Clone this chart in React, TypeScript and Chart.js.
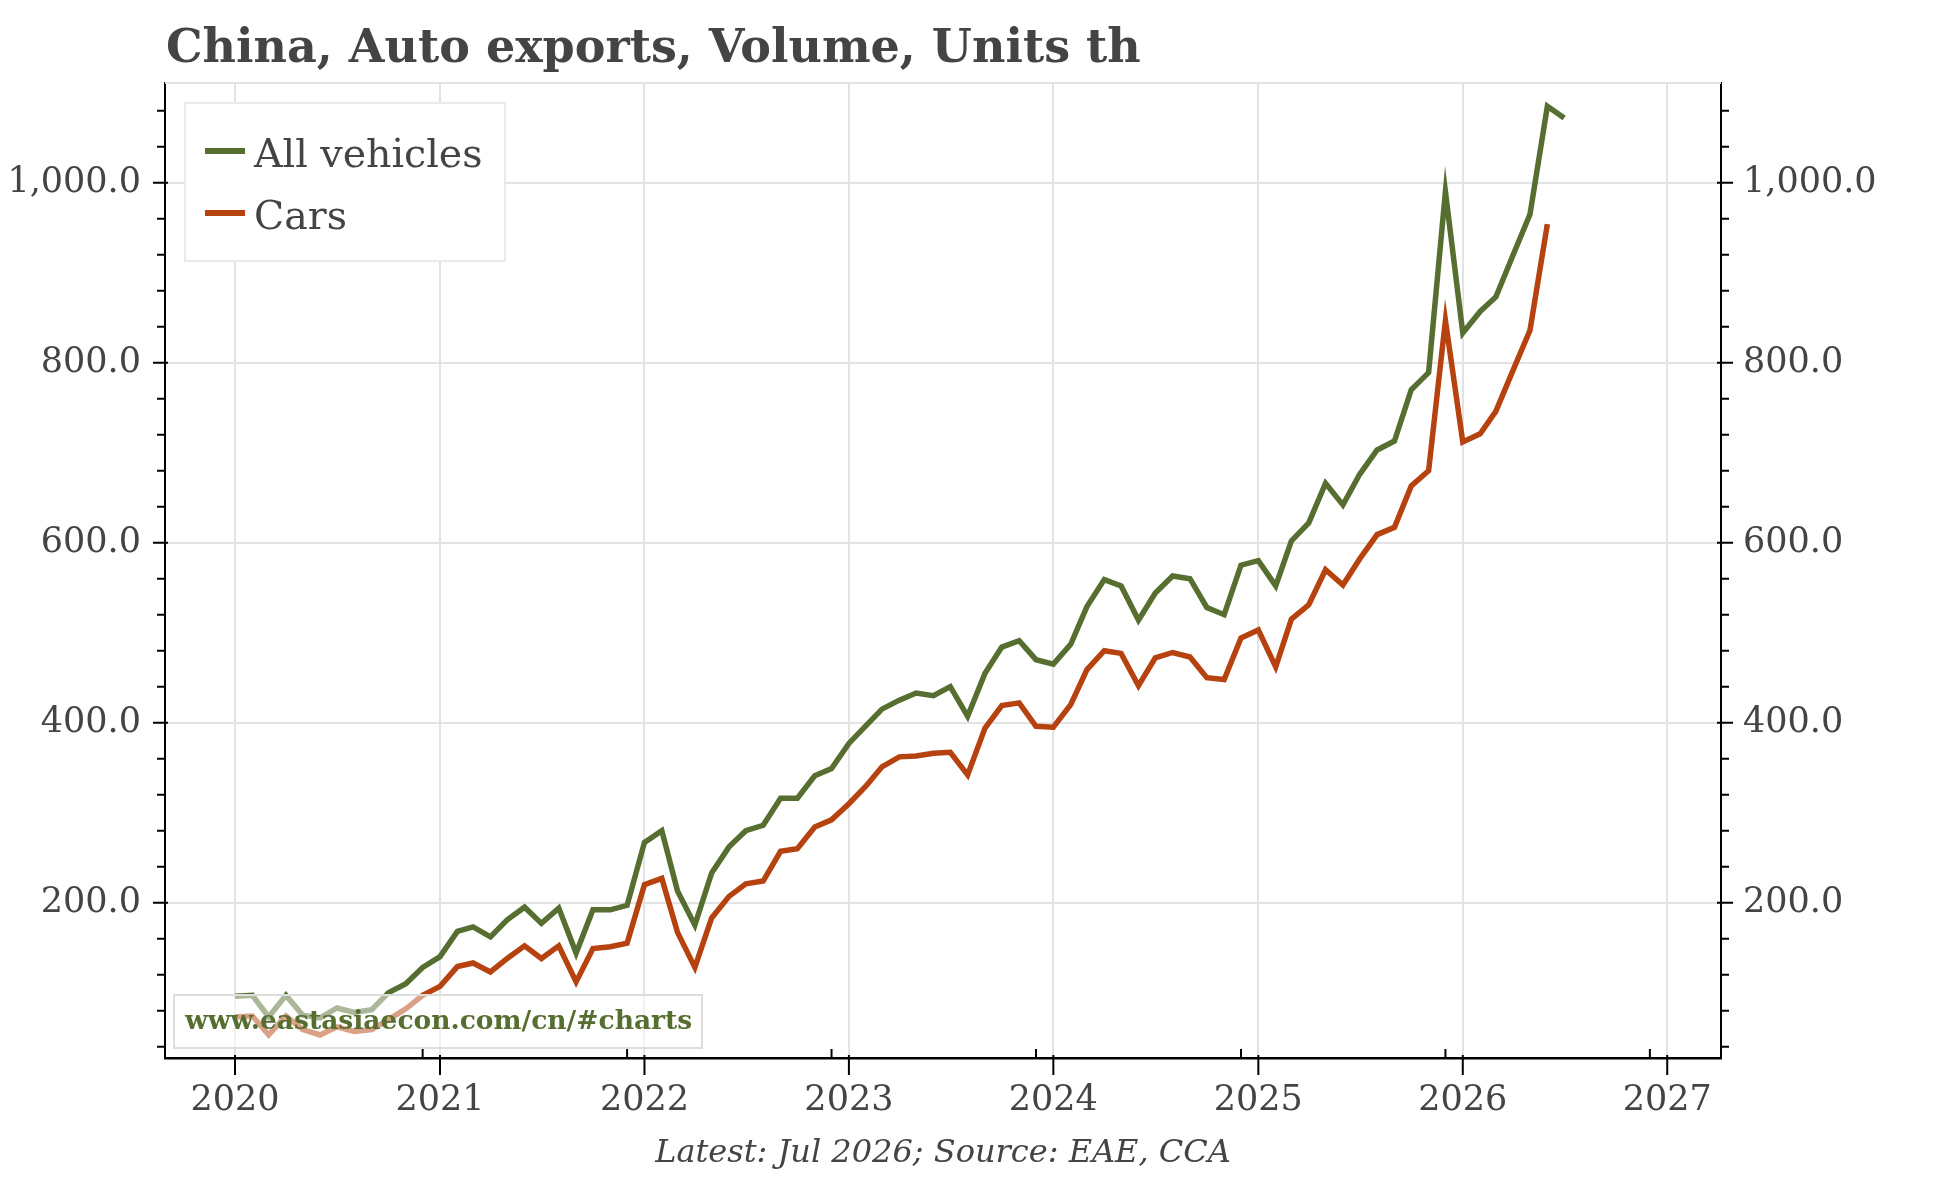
import { useEffect, useRef } from "react";
import { Chart, registerables } from "chart.js";

Chart.register(...registerables);

// monthly data, Jan 2020 onwards (thousand units)
const START_YEAR = 2020;

const ALL_VEHICLES = [
  96, 97, 73, 97, 75, 72, 83, 78, 81, 100, 110, 128,
  140, 168, 173, 162, 181, 195, 177, 194, 144, 192, 192, 197,
  267, 280, 213, 175, 233, 262, 280, 286, 316, 316, 341, 349,
  377, 397, 415, 425, 433, 430, 440, 407, 455, 484, 491, 470,
  465, 487, 529, 559, 552, 514, 544, 563, 560, 528, 520, 575,
  580, 552, 602, 622, 666, 642, 676, 703, 713, 770, 789, 990,
  833, 857, 873, 920, 965, 1085, 1072,
];

const CARS = [
  73, 74, 53, 74, 59, 53, 62, 57, 59, 70, 82, 97,
  107, 129, 133, 123, 138, 152, 138, 152, 112, 149, 151, 155,
  220, 227, 167, 128, 183, 207, 221, 224, 257, 260, 284, 292,
  310, 330, 351, 362, 363, 366, 367, 342, 394, 419, 422, 396,
  395, 420, 459, 480, 477, 441, 472, 478, 473, 450, 448, 494,
  503, 462, 515, 531, 570, 553, 582, 609, 617, 663, 680, 847,
  712, 721, 746, 792, 836, 954,
];

const YEARS = [2020, 2021, 2022, 2023, 2024, 2025, 2026, 2027];
const Y_MAJOR = [200, 400, 600, 800, 1000];

const TITLE = "China, Auto exports, Volume, Units th";
const FOOTER = "Latest: Jul 2026; Source: EAE, CCA";
const WATERMARK = "www.eastasiaecon.com/cn/#charts";
const SERIES_NAMES = ["All vehicles", "Cars"];

const GREEN = "#566E30";
const RUST = "#B6420F";
const TEXT = "#444444";
const GRID = "#e3e3e3";
const FONT = "'DejaVu Serif', Georgia, serif";

const X_MIN = Date.UTC(2019, 7, 29);
const X_MAX = Date.UTC(2027, 3, 7);
const Y_MIN = 27.4;
const Y_MAX = 1110.8;

const monthTs = (i: number) => Date.UTC(START_YEAR, i, 1);
const toPoints = (vals: number[]) => vals.map((v, i) => ({ x: monthTs(i), y: v }));

// minor ticks every 40, labels only on the majors
const yTicks: number[] = [];
for (let v = 40; v < Y_MAX; v += 40) yTicks.push(v);

const fmt = (v: number) =>
  v.toLocaleString("en-US", { minimumFractionDigits: 1, maximumFractionDigits: 1 });

const decorPlugin = {
  id: "decor",
  afterDatasetsDraw(chart: any) {
    const { ctx, chartArea: a } = chart;
    // watermark box washes out the lines behind it
    const bx = a.left + 9;
    const by = a.bottom - 63;
    ctx.save();
    ctx.fillStyle = "rgba(255,255,255,0.5)";
    ctx.fillRect(bx, by, 528, 53);
    ctx.strokeStyle = "#dddddd";
    ctx.lineWidth = 2;
    ctx.strokeRect(bx, by, 528, 53);
    ctx.fillStyle = GREEN;
    ctx.font = `bold 26.5px ${FONT}`;
    ctx.textBaseline = "alphabetic";
    ctx.fillText(WATERMARK, bx + 11, by + 34);
    ctx.restore();
  },
  afterDraw(chart: any) {
    const { ctx, chartArea: a, scales } = chart;
    ctx.save();

    // top frame line
    ctx.strokeStyle = GRID;
    ctx.lineWidth = 2;
    ctx.beginPath();
    ctx.moveTo(a.left, a.top);
    ctx.lineTo(a.right, a.top);
    ctx.stroke();

    // y tick marks, both sides
    ctx.strokeStyle = "#000";
    ctx.lineWidth = 2;
    for (const t of scales.y.ticks) {
      const py = scales.y.getPixelForValue(t.value);
      const major = Y_MAJOR.includes(t.value);
      ctx.beginPath();
      ctx.moveTo(a.left - (major ? 12 : 8), py);
      ctx.lineTo(a.left + (major ? 3 : 0), py);
      ctx.moveTo(a.right - (major ? 4 : 0), py);
      ctx.lineTo(a.right + (major ? 12 : 8), py);
      ctx.stroke();
    }

    // x tick marks: years outward, Dec 1 inward
    for (const y of YEARS) {
      const px = scales.x.getPixelForValue(Date.UTC(y, 0, 1));
      ctx.beginPath();
      ctx.moveTo(px, a.bottom - 3);
      ctx.lineTo(px, a.bottom + 17);
      ctx.stroke();
      if (y >= 2020 && y < 2027) {
        const dx = scales.x.getPixelForValue(Date.UTC(y, 11, 1));
        ctx.beginPath();
        ctx.moveTo(dx, a.bottom);
        ctx.lineTo(dx, a.bottom - 9);
        ctx.stroke();
      }
    }

    // title
    ctx.fillStyle = TEXT;
    ctx.textBaseline = "alphabetic";
    ctx.textAlign = "left";
    ctx.font = `bold 46px ${FONT}`;
    ctx.fillText(TITLE, a.left + 1, 62);

    // footer
    ctx.textAlign = "center";
    ctx.font = `italic 32px ${FONT}`;
    ctx.fillText(FOOTER, (a.left + a.right) / 2, 1162);

    // legend
    const lx = a.left + 20;
    const ly = a.top + 20;
    ctx.fillStyle = "#ffffff";
    ctx.fillRect(lx, ly, 320, 158);
    ctx.strokeStyle = "#eaeaea";
    ctx.lineWidth = 2;
    ctx.strokeRect(lx, ly, 320, 158);
    const colors = [GREEN, RUST];
    ctx.textAlign = "left";
    ctx.font = `39.5px ${FONT}`;
    SERIES_NAMES.forEach((name, i) => {
      const rowY = ly + 48 + i * 62;
      ctx.strokeStyle = colors[i];
      ctx.lineWidth = 6;
      ctx.beginPath();
      ctx.moveTo(lx + 20, rowY);
      ctx.lineTo(lx + 60, rowY);
      ctx.stroke();
      ctx.fillStyle = TEXT;
      ctx.fillText(name, lx + 69, rowY + 16);
    });

    ctx.restore();
  },
};

export default function App() {
  const canvasRef = useRef<HTMLCanvasElement>(null);
  const chartRef = useRef<Chart | null>(null);

  useEffect(() => {
    if (!canvasRef.current) return;
    if (chartRef.current) chartRef.current.destroy();

    const tickFont = { family: FONT, size: 35 };

    const yScale = (position: "left" | "right", width: number, padding: number, grid: boolean) => ({
      type: "linear" as const,
      position,
      min: Y_MIN,
      max: Y_MAX,
      afterBuildTicks: (s: any) => {
        s.ticks = yTicks.map((v) => ({ value: v }));
      },
      afterFit: (s: any) => {
        s.width = width;
      },
      ticks: {
        autoSkip: false,
        padding,
        color: TEXT,
        font: tickFont,
        callback: (v: any) => (Y_MAJOR.includes(v) ? fmt(v) : ""),
      },
      grid: {
        display: grid,
        drawTicks: false,
        lineWidth: 2,
        color: (c: any) => (c.tick && Y_MAJOR.includes(c.tick.value) ? GRID : "rgba(0,0,0,0)"),
      },
      border: { display: true, color: "#000", width: 2 },
    });

    chartRef.current = new Chart(canvasRef.current, {
      type: "line",
      data: {
        datasets: [
          {
            label: SERIES_NAMES[0],
            data: toPoints(ALL_VEHICLES),
            borderColor: GREEN,
            backgroundColor: GREEN,
            borderWidth: 5.5,
            pointRadius: 0,
            tension: 0,
            yAxisID: "y",
          },
          {
            label: SERIES_NAMES[1],
            data: toPoints(CARS),
            borderColor: RUST,
            backgroundColor: RUST,
            borderWidth: 5.5,
            pointRadius: 0,
            tension: 0,
            yAxisID: "y",
          },
        ],
      },
      options: {
        responsive: false,
        animation: false,
        layout: { padding: { top: 83, left: 0, right: 0, bottom: 0 } },
        scales: {
          x: {
            type: "linear",
            min: X_MIN,
            max: X_MAX,
            afterBuildTicks: (s: any) => {
              s.ticks = YEARS.map((y) => ({ value: Date.UTC(y, 0, 1) }));
            },
            afterFit: (s: any) => {
              s.height = 120;
            },
            ticks: {
              autoSkip: false,
              maxRotation: 0,
              padding: 22,
              color: TEXT,
              font: tickFont,
              callback: (v: any) => String(new Date(v).getUTCFullYear()),
            },
            grid: { color: GRID, lineWidth: 2, drawTicks: false },
            border: { color: "#000", width: 2.5 },
          },
          y: yScale("left", 165, 24, true),
          y2: yScale("right", 223, 22, false),
        },
        plugins: {
          legend: { display: false },
          title: { display: false },
          tooltip: { enabled: false },
        },
      },
      plugins: [decorPlugin],
    });

    return () => {
      if (chartRef.current) {
        chartRef.current.destroy();
        chartRef.current = null;
      }
    };
  }, []);

  return (
    <div style={{ position: "absolute", left: 0, top: 0, width: 1944, height: 1178, background: "#fff" }}>
      <canvas ref={canvasRef} width={1944} height={1178} style={{ display: "block" }}></canvas>
    </div>
  );
}
